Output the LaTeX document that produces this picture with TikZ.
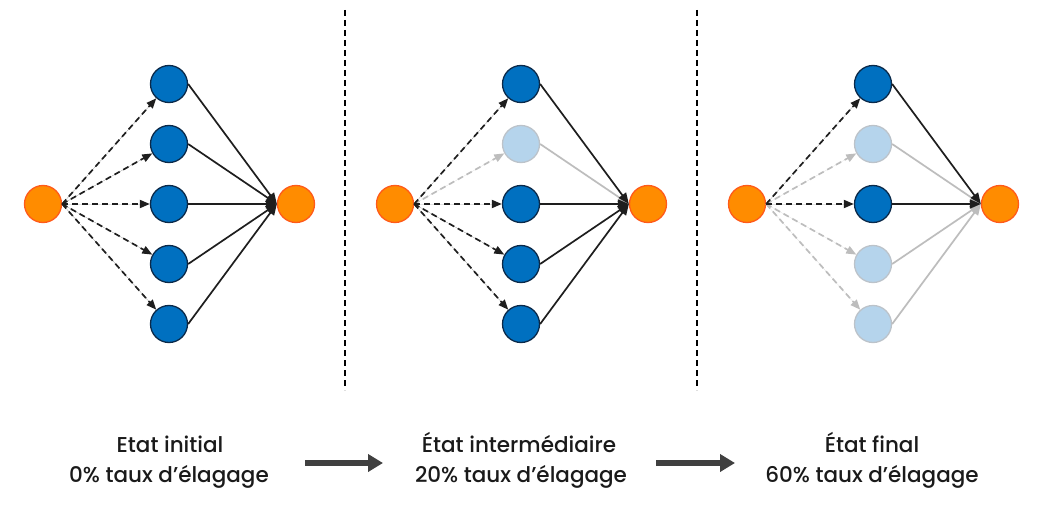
\documentclass[tikz,border=0pt]{standalone}
\usepackage{fontspec}
\setmainfont{Poppins Medium}
\usetikzlibrary{arrows.meta}
\definecolor{bluefill}{HTML}{0070C0}
\definecolor{bluedraw}{HTML}{0B2A4A}
\definecolor{palefill}{HTML}{B5D4EC}
\definecolor{paledraw}{HTML}{BCC3CA}
\definecolor{orangefill}{HTML}{FF8C00}
\definecolor{orangedraw}{HTML}{FF5A1A}
\definecolor{lineon}{HTML}{1E1E1E}
\definecolor{lineoff}{HTML}{BDBDBD}
\definecolor{bigarrowcol}{HTML}{404040}
\definecolor{txt}{HTML}{1A1A1A}
\tikzset{
  neuron/.style={circle,minimum size=37pt,inner sep=0pt,line width=1.3pt},
  orangenode/.style={neuron,fill=orangefill,draw=orangedraw},
  bnon/.style={neuron,fill=bluefill,draw=bluedraw},
  bnoff/.style={neuron,fill=palefill,draw=paledraw},
  dashon/.style={draw=lineon,line width=1.7pt,dash pattern=on 6pt off 4pt,-{Triangle[length=10pt,width=8pt]},fill=lineon},
  dashoff/.style={draw=lineoff,line width=1.7pt,dash pattern=on 6pt off 4pt,-{Triangle[length=10pt,width=8pt]},fill=lineoff},
  solon/.style={draw=lineon,line width=1.7pt,-{Triangle[length=11pt,width=9pt]}},
  soloff/.style={draw=lineoff,line width=1.7pt,-{Triangle[length=11pt,width=9pt]}},
  sep/.style={draw=black,line width=1.4pt,dash pattern=on 6pt off 4pt},
  bigarrow/.style={draw=bigarrowcol,line width=5.5pt,-{Triangle[length=15pt,width=17pt]}},
  label/.style={text=txt,font=\fontsize{21.5}{26}\selectfont,inner sep=0pt,anchor=base}
}
\begin{document}
\begin{tikzpicture}[x=1pt,y=-1pt]
\useasboundingbox[fill=white] (0,0) rectangle (1039,508);

% separators
\coordinate (S1a) at (345,10); \coordinate (S1b) at (345,390);
\coordinate (S2a) at (697,10); \coordinate (S2b) at (697,390);
\draw[sep] (S1a) -- (S1b);
\draw[sep] (S2a) -- (S2b);

% network nodes
\foreach \n/\ox in {1/0,2/352,3/704}{
  \node[orangenode] (L\n) at (43+\ox,204) {};
  \node[orangenode] (R\n) at (296+\ox,204) {};
}
\foreach \i/\st in {1/on,2/on,3/on,4/on,5/on}{
  \node[bn\st] (B1-\i) at (169,24+60*\i) {};
}
\foreach \i/\st in {1/on,2/off,3/on,4/on,5/on}{
  \node[bn\st] (B2-\i) at (521,24+60*\i) {};
}
\foreach \i/\st in {1/on,2/off,3/on,4/off,5/off}{
  \node[bn\st] (B3-\i) at (873,24+60*\i) {};
}

% connectors: pruned first
\foreach \n/\i in {2/2,3/2,3/4,3/5}{
  \draw[dashoff] (L\n.east) -- (B\n-\i);
  \draw[soloff] (B\n-\i.east) -- (R\n.west);
}
\foreach \n/\i in {1/1,1/2,1/3,1/4,1/5,2/1,2/3,2/4,2/5,3/1,3/3}{
  \draw[dashon] (L\n.east) -- (B\n-\i);
  \draw[solon] (B\n-\i.east) -- (R\n.west);
}

% labels
\node[label] (T1a) at (170,452) {Etat initial};
\node[label] (T1b) at (169,482) {0\% taux d’élagage};
\node[label] (T2a) at (519,452) {État intermédiaire};
\node[label] (T2b) at (521,482) {20\% taux d’élagage};
\node[label] (T3a) at (872,452) {État final};
\node[label] (T3b) at (872,482) {60\% taux d’élagage};

% progress arrows
\coordinate (A1s) at (305,463); \coordinate (A1e) at (383,463);
\coordinate (A2s) at (656,463); \coordinate (A2e) at (735,463);
\draw[bigarrow] (A1s) -- (A1e);
\draw[bigarrow] (A2s) -- (A2e);
\end{tikzpicture}
\end{document}
